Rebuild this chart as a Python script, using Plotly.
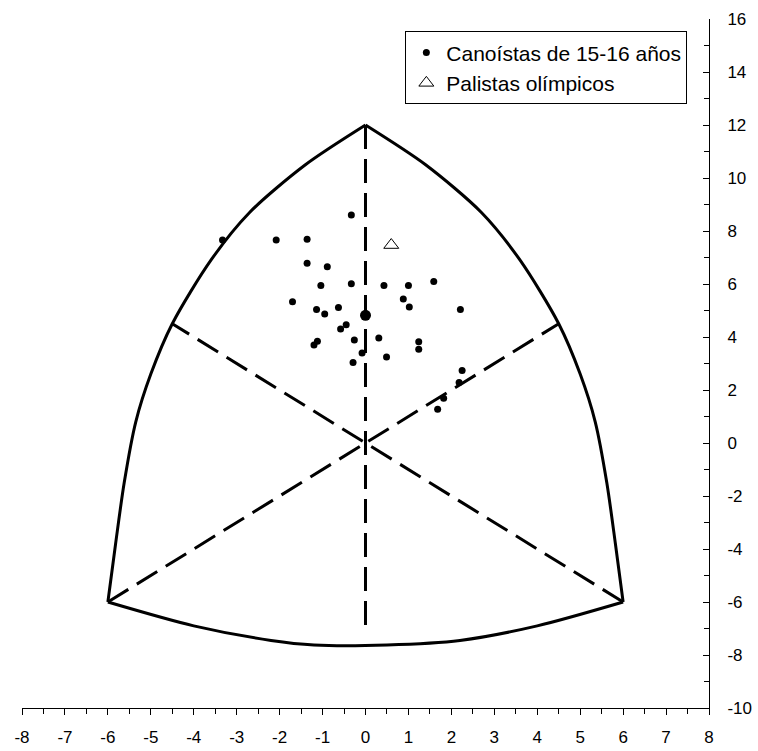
import plotly.graph_objects as go

# --- data ---------------------------------------------------------------
canoe_x = [-0.33, -3.33, -2.08, -1.36, -1.36, -0.89, -1.04, -0.33, 0.43, 1.00, 1.59,
           -1.70, 0.88, 1.02, 2.21, -1.14, -0.95, -0.63, -0.58, -0.45, -0.26, 0.31,
           1.24, 1.24, -1.20, -1.12, -0.08, 0.49, -0.29, 2.25, 2.18, 1.82, 1.68]
canoe_y = [8.60, 7.66, 7.66, 7.69, 6.78, 6.65, 5.94, 6.01, 5.94, 5.94, 6.09,
           5.33, 5.43, 5.13, 5.04, 5.04, 4.87, 5.11, 4.30, 4.46, 3.89, 3.96,
           3.82, 3.54, 3.70, 3.84, 3.40, 3.25, 3.04, 2.74, 2.28, 1.69, 1.27]
mean_x = [0.0]
mean_y = [4.82]
olymp_x = [0.60]
olymp_y = [7.47]

# somatochart frame
left_arc_x = [0, -1.4, -2.7, -3.6, -4.5, -5.0, -5.35, -5.62, -5.82, -6]
left_arc_y = [12, 10.5, 8.7, 6.9, 4.5, 2.6, 0.8, -1.5, -3.8, -6]
right_arc_x = [-v for v in left_arc_x]
right_arc_y = list(left_arc_y)
bottom_arc_x = [-6, -4, -2.2, -1.2, 0.5, 2.2, 4, 6]
bottom_arc_y = [-6, -6.9, -7.45, -7.62, -7.62, -7.45, -6.9, -6]
axis_lines = [  # (x0, y0, x1, y1)
    (0, 12, 0, -7.1),
    (-6, -6, 4.5, 4.5),
    (6, -6, -4.5, 4.5),
]

x_ticks = list(range(-8, 9))
y_ticks = list(range(-10, 17, 2))

FONT = "Liberation Sans, Arial, sans-serif"

fig = go.Figure()

for (x0, y0, x1, y1) in axis_lines:
    fig.add_trace(go.Scatter(x=[x0, x1], y=[y0, y1], mode="lines",
                             line=dict(color="black", width=3, dash="24px,10px"),
                             showlegend=False, hoverinfo="skip"))

for ax, ay in [(left_arc_x, left_arc_y), (right_arc_x, right_arc_y),
               (bottom_arc_x, bottom_arc_y)]:
    fig.add_trace(go.Scatter(x=ax, y=ay, mode="lines",
                             line=dict(color="black", width=3, shape="spline", smoothing=0.8),
                             showlegend=False, hoverinfo="skip"))

fig.add_trace(go.Scatter(x=canoe_x, y=canoe_y, mode="markers",
                         name="Canoístas de 15-16 años",
                         marker=dict(symbol="circle", size=7, color="black")))
fig.add_trace(go.Scatter(x=mean_x, y=mean_y, mode="markers", showlegend=False,
                         marker=dict(symbol="circle", size=11, color="black")))
fig.add_trace(go.Scatter(x=olymp_x, y=olymp_y, mode="markers",
                         name="Palistas olímpicos",
                         marker=dict(symbol="triangle-up-open", size=13, color="black",
                                     line=dict(width=1, color="black"))))

fig.update_layout(
    width=758, height=751,
    margin=dict(l=22, r=49, t=19, b=43, autoexpand=False),
    paper_bgcolor="white", plot_bgcolor="white",
    font=dict(family=FONT, color="black", size=17),
    legend=dict(x=0.558, y=0.982, xanchor="left", yanchor="top",
                bordercolor="black", borderwidth=1, bgcolor="white",
                font=dict(size=21, family=FONT), itemwidth=30, tracegroupgap=0),
    xaxis=dict(range=[-8, 8], tickvals=x_ticks, ticktext=[str(v) for v in x_ticks],
               showgrid=False, zeroline=False, showline=True, linecolor="black",
               linewidth=1, ticks="outside", ticklen=6, tickcolor="black",
               ticklabelstandoff=8, automargin=False,
               minor=dict(dtick=0.5, ticks="outside", ticklen=5, tickcolor="black")),
    yaxis=dict(range=[-10, 16], tickvals=y_ticks, ticktext=[str(v) for v in y_ticks],
               side="right", showgrid=False, zeroline=False, showline=True,
               linecolor="black", linewidth=1, ticks="inside", ticklen=6,
               tickcolor="black", ticklabelstandoff=14, automargin=False,
               minor=dict(dtick=1, ticks="inside", ticklen=5, tickcolor="black")),
    showlegend=True,
    hovermode=False,
)

fig.write_html("out.html",
               config={"displayModeBar": False},
               post_script="document.body.style.margin='0';document.body.style.overflow='hidden';")
